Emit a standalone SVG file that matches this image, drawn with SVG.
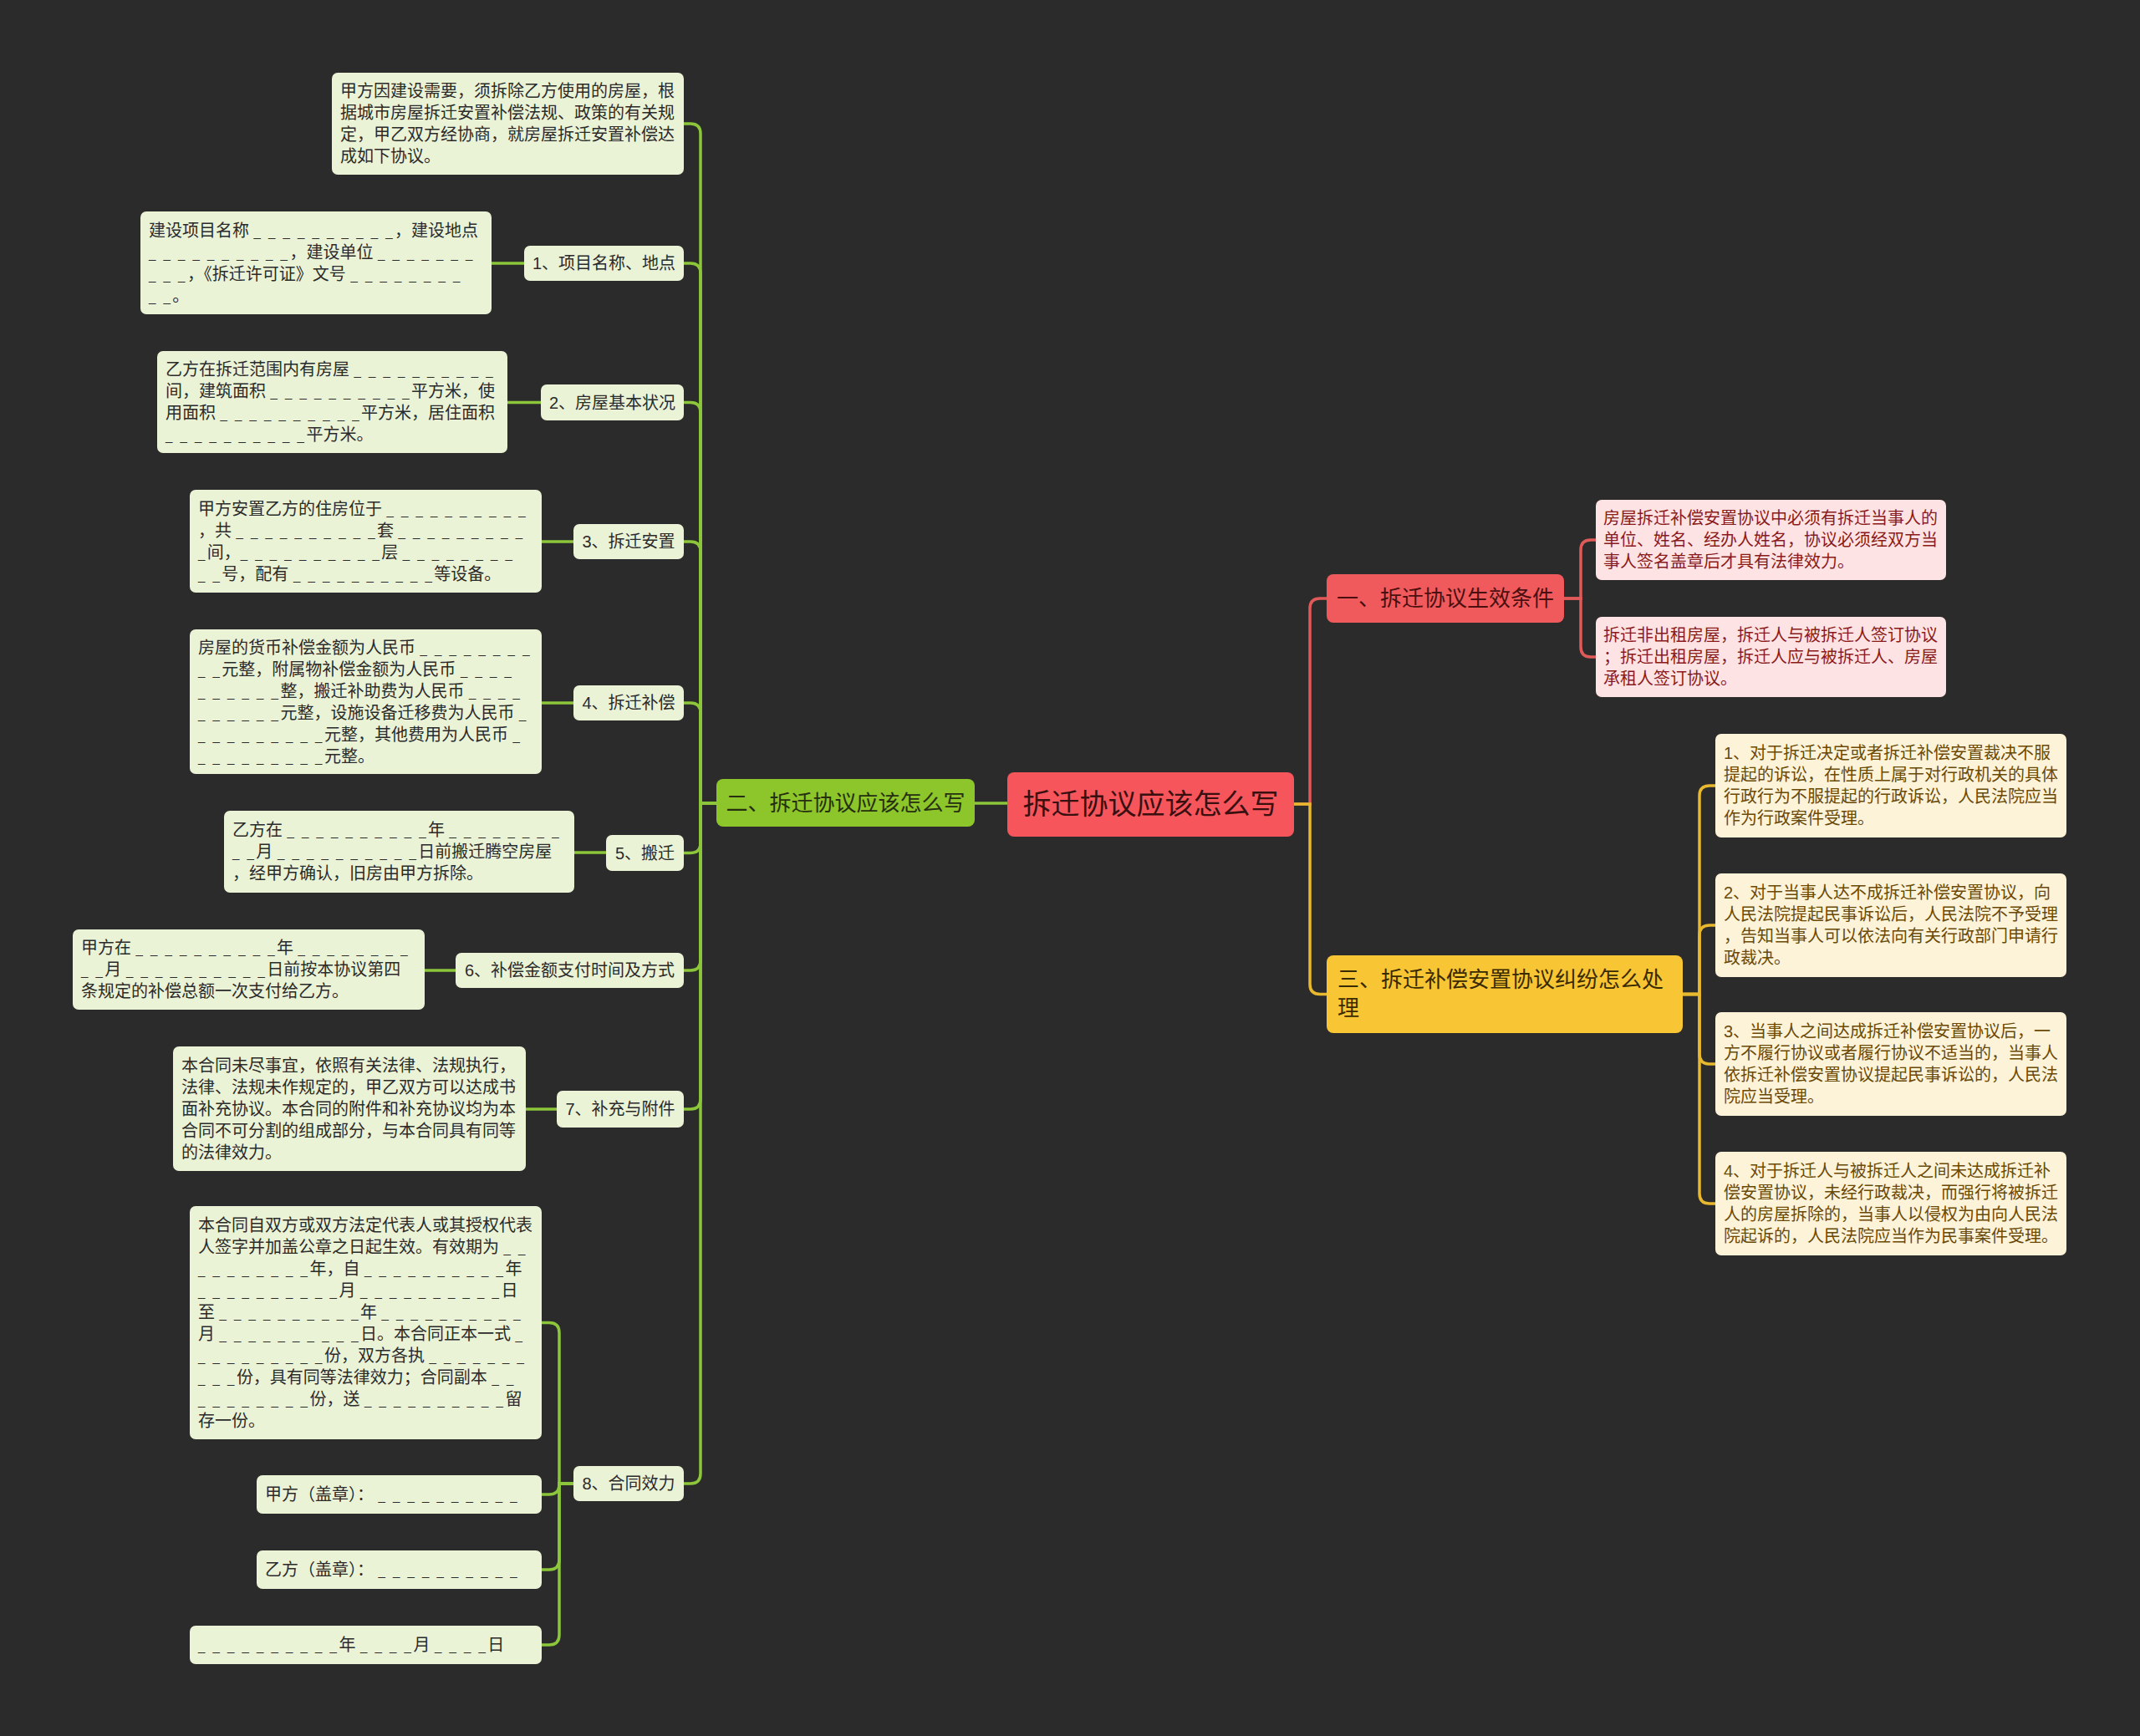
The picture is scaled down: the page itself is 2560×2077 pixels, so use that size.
<svg xmlns="http://www.w3.org/2000/svg" width="2560" height="2077" viewBox="0 0 2560 2077">
<style>
text{font-family:"Liberation Sans","Noto Sans CJK SC",sans-serif;}
.u{font-size:15px;letter-spacing:2.5px;}
.lf{fill:#ebf3d7;}
.lt{font-size:20px;fill:#2b2b2b;}
.st{font-size:20px;fill:#2b2b2b;text-anchor:middle;}
.pf{fill:#fde3e3;}
.pt{font-size:20px;fill:#8a1b1b;}
.yf{fill:#fdf3d9;}
.yt{font-size:20px;fill:#6b4a06;}
.cg{fill:none;stroke:#8cc63a;stroke-width:3.5;}
.cr{fill:none;stroke:#e05a5a;stroke-width:3.5;}
.cy{fill:none;stroke:#e8b92e;stroke-width:3.5;}
</style>
<rect width="2560" height="2077" fill="#2b2b2b"/>
<g id="connectors">
<path class="cg" d="M1205 961 H1166"/>
<path class="cg" d="M857 961 H838 V160 Q838 148 826 148 H818"/>
<path class="cg" d="M857 961 H838 V327 Q838 315 826 315 H818"/>
<path class="cg" d="M857 961 H838 V493.5 Q838 481.5 826 481.5 H818"/>
<path class="cg" d="M857 961 H838 V660 Q838 648 826 648 H818"/>
<path class="cg" d="M857 961 H838 V853 Q838 841 826 841 H818"/>
<path class="cg" d="M857 961 H838 V1008.5 Q838 1020.5 826 1020.5 H818"/>
<path class="cg" d="M857 961 H838 V1149 Q838 1161 826 1161 H818"/>
<path class="cg" d="M857 961 H838 V1315 Q838 1327 826 1327 H818"/>
<path class="cg" d="M857 961 H838 V1763 Q838 1775 826 1775 H818"/>
<path class="cg" d="M627 315 H588"/>
<path class="cg" d="M647 481.5 H607"/>
<path class="cg" d="M686 648 H648"/>
<path class="cg" d="M686 841 H648"/>
<path class="cg" d="M725 1020 H687"/>
<path class="cg" d="M545 1161 H508"/>
<path class="cg" d="M666 1327 H629"/>
<path class="cg" d="M686 1775 H669 V1594.5 Q669 1582.5 657 1582.5 H648"/>
<path class="cg" d="M686 1775 H669 V1776 Q669 1788 657 1788 H648"/>
<path class="cg" d="M686 1775 H669 V1866 Q669 1878 657 1878 H648"/>
<path class="cg" d="M686 1775 H669 V1956 Q669 1968 657 1968 H648"/>
<path class="cr" d="M1548 962 H1567 V728 Q1567 716 1579 716 H1587"/>
<path class="cy" d="M1548 962 H1567 V1177.5 Q1567 1189.5 1579 1189.5 H1587"/>
<path class="cr" d="M1871 716 H1891 V658 Q1891 646 1903 646 H1909"/>
<path class="cr" d="M1871 716 H1891 V774 Q1891 786 1903 786 H1909"/>
<path class="cy" d="M2013 1189.5 H2033 V952 Q2033 940 2045 940 H2052"/>
<path class="cy" d="M2013 1189.5 H2033 V1119 Q2033 1107 2045 1107 H2052"/>
<path class="cy" d="M2013 1189.5 H2033 V1261 Q2033 1273 2045 1273 H2052"/>
<path class="cy" d="M2013 1189.5 H2033 V1428 Q2033 1440 2045 1440 H2052"/>
</g>
<g id="root">
<rect x="1205" y="924" width="343" height="77" rx="8" fill="#f5555b"/>
<text x="1376.5" y="974" font-size="34" fill="#3a0f10" text-anchor="middle">拆迁协议应该怎么写</text>
</g>
<g id="topic2">
<rect x="857" y="932" width="309" height="57" rx="8" fill="#8cc62a"/>
<text x="1011.5" y="970" font-size="26" fill="#263010" text-anchor="middle">二、拆迁协议应该怎么写</text>
</g>
<g id="topic1">
<rect x="1587" y="687" width="284" height="58" rx="8" fill="#f05a5c"/>
<text x="1729" y="725" font-size="26" fill="#4a1010" text-anchor="middle">一、拆迁协议生效条件</text>
</g>
<g id="topic3">
<rect x="1587" y="1143" width="426" height="93" rx="8" fill="#f8c534"/>
<text x="1600" y="1181" font-size="26" fill="#3a2a00">三、拆迁补偿安置协议纠纷怎么处</text>
<text x="1600" y="1215" font-size="26" fill="#3a2a00">理</text>
</g>
<g id="leaf-intro">
<rect class="lf" x="397" y="87" width="421" height="122" rx="7"/>
<text class="lt" x="407" y="116">甲方因建设需要，须拆除乙方使用的房屋，根</text>
<text class="lt" x="407" y="142">据城市房屋拆迁安置补偿法规、政策的有关规</text>
<text class="lt" x="407" y="168">定，甲乙双方经协商，就房屋拆迁安置补偿达</text>
<text class="lt" x="407" y="194">成如下协议。</text>
</g>
<g id="sub1">
<rect class="lf" x="627" y="294" width="191" height="42" rx="7"/>
<text class="st" x="722.5" y="322">1、项目名称、地点</text>
</g>
<g id="leaf1">
<rect class="lf" x="168" y="253" width="420" height="123" rx="7"/>
<text class="lt" x="178" y="282.5">建设项目名称 <tspan class="u">_ _ _ _ _ _ _ _ _ _</tspan>，建设地点</text>
<text class="lt" x="178" y="308.5"><tspan class="u">_ _ _ _ _ _ _ _ _ _</tspan>，建设单位 <tspan class="u">_ _ _ _ _ _ _</tspan></text>
<text class="lt" x="178" y="334.5"><tspan class="u">_ _ _</tspan>，《拆迁许可证》文号 <tspan class="u">_ _ _ _ _ _ _ _</tspan></text>
<text class="lt" x="178" y="360.5"><tspan class="u">_ _</tspan>。</text>
</g>
<g id="sub2">
<rect class="lf" x="647" y="460" width="171" height="43" rx="7"/>
<text class="st" x="732.5" y="489">2、房屋基本状况</text>
</g>
<g id="leaf2">
<rect class="lf" x="188" y="420" width="419" height="122" rx="7"/>
<text class="lt" x="198" y="449">乙方在拆迁范围内有房屋 <tspan class="u">_ _ _ _ _ _ _ _ _ _</tspan></text>
<text class="lt" x="198" y="475">间，建筑面积 <tspan class="u">_ _ _ _ _ _ _ _ _ _</tspan>平方米，使</text>
<text class="lt" x="198" y="501">用面积 <tspan class="u">_ _ _ _ _ _ _ _ _ _</tspan>平方米，居住面积</text>
<text class="lt" x="198" y="527"><tspan class="u">_ _ _ _ _ _ _ _ _ _</tspan>平方米。</text>
</g>
<g id="sub3">
<rect class="lf" x="686" y="627" width="132" height="42" rx="7"/>
<text class="st" x="752" y="655">3、拆迁安置</text>
</g>
<g id="leaf3">
<rect class="lf" x="227" y="586" width="421" height="123" rx="7"/>
<text class="lt" x="237" y="615.5">甲方安置乙方的住房位于 <tspan class="u">_ _ _ _ _ _ _ _ _ _</tspan></text>
<text class="lt" x="237" y="641.5">，共 <tspan class="u">_ _ _ _ _ _ _ _ _ _</tspan>套 <tspan class="u">_ _ _ _ _ _ _ _ _</tspan></text>
<text class="lt" x="237" y="667.5"><tspan class="u">_</tspan>间，<tspan class="u">_ _ _ _ _ _ _ _ _ _</tspan>层 <tspan class="u">_ _ _ _ _ _ _ _</tspan></text>
<text class="lt" x="237" y="693.5"><tspan class="u">_ _</tspan>号，配有 <tspan class="u">_ _ _ _ _ _ _ _ _ _</tspan>等设备。</text>
</g>
<g id="sub4">
<rect class="lf" x="686" y="820" width="132" height="42" rx="7"/>
<text class="st" x="752" y="848">4、拆迁补偿</text>
</g>
<g id="leaf4">
<rect class="lf" x="227" y="753" width="421" height="173" rx="7"/>
<text class="lt" x="237" y="781.5">房屋的货币补偿金额为人民币 <tspan class="u">_ _ _ _ _ _ _ _</tspan></text>
<text class="lt" x="237" y="807.5"><tspan class="u">_ _</tspan>元整，附属物补偿金额为人民币 <tspan class="u">_ _ _ _</tspan></text>
<text class="lt" x="237" y="833.5"><tspan class="u">_ _ _ _ _ _</tspan>整，搬迁补助费为人民币 <tspan class="u">_ _ _ _</tspan></text>
<text class="lt" x="237" y="859.5"><tspan class="u">_ _ _ _ _ _</tspan>元整，设施设备迁移费为人民币 <tspan class="u">_</tspan></text>
<text class="lt" x="237" y="885.5"><tspan class="u">_ _ _ _ _ _ _ _ _</tspan>元整，其他费用为人民币 <tspan class="u">_</tspan></text>
<text class="lt" x="237" y="911.5"><tspan class="u">_ _ _ _ _ _ _ _ _</tspan>元整。</text>
</g>
<g id="sub5">
<rect class="lf" x="725" y="999" width="93" height="43" rx="7"/>
<text class="st" x="771.5" y="1027.5">5、搬迁</text>
</g>
<g id="leaf5">
<rect class="lf" x="268" y="970" width="419" height="98" rx="7"/>
<text class="lt" x="278" y="1000">乙方在 <tspan class="u">_ _ _ _ _ _ _ _ _ _</tspan>年 <tspan class="u">_ _ _ _ _ _ _ _</tspan></text>
<text class="lt" x="278" y="1026"><tspan class="u">_ _</tspan>月 <tspan class="u">_ _ _ _ _ _ _ _ _ _</tspan>日前搬迁腾空房屋</text>
<text class="lt" x="278" y="1052">，经甲方确认，旧房由甲方拆除。</text>
</g>
<g id="sub6">
<rect class="lf" x="545" y="1140" width="273" height="42" rx="7"/>
<text class="st" x="681.5" y="1168">6、补偿金额支付时间及方式</text>
</g>
<g id="leaf6">
<rect class="lf" x="87" y="1112" width="421" height="96" rx="7"/>
<text class="lt" x="97" y="1141">甲方在 <tspan class="u">_ _ _ _ _ _ _ _ _ _</tspan>年 <tspan class="u">_ _ _ _ _ _ _ _</tspan></text>
<text class="lt" x="97" y="1167"><tspan class="u">_ _</tspan>月 <tspan class="u">_ _ _ _ _ _ _ _ _ _</tspan>日前按本协议第四</text>
<text class="lt" x="97" y="1193">条规定的补偿总额一次支付给乙方。</text>
</g>
<g id="sub7">
<rect class="lf" x="666" y="1305" width="152" height="44" rx="7"/>
<text class="st" x="742" y="1334">7、补充与附件</text>
</g>
<g id="leaf7">
<rect class="lf" x="207" y="1252" width="422" height="149" rx="7"/>
<text class="lt" x="217" y="1281.5">本合同未尽事宜，依照有关法律、法规执行，</text>
<text class="lt" x="217" y="1307.5">法律、法规未作规定的，甲乙双方可以达成书</text>
<text class="lt" x="217" y="1333.5">面补充协议。本合同的附件和补充协议均为本</text>
<text class="lt" x="217" y="1359.5">合同不可分割的组成部分，与本合同具有同等</text>
<text class="lt" x="217" y="1385.5">的法律效力。</text>
</g>
<g id="sub8">
<rect class="lf" x="686" y="1754" width="132" height="42" rx="7"/>
<text class="st" x="752" y="1782">8、合同效力</text>
</g>
<g id="leaf8a">
<rect class="lf" x="227" y="1443" width="421" height="279" rx="7"/>
<text class="lt" x="237" y="1472.5">本合同自双方或双方法定代表人或其授权代表</text>
<text class="lt" x="237" y="1498.5">人签字并加盖公章之日起生效。有效期为 <tspan class="u">_ _</tspan></text>
<text class="lt" x="237" y="1524.5"><tspan class="u">_ _ _ _ _ _ _ _</tspan>年，自 <tspan class="u">_ _ _ _ _ _ _ _ _ _</tspan>年</text>
<text class="lt" x="237" y="1550.5"><tspan class="u">_ _ _ _ _ _ _ _ _ _</tspan>月 <tspan class="u">_ _ _ _ _ _ _ _ _ _</tspan>日</text>
<text class="lt" x="237" y="1576.5">至 <tspan class="u">_ _ _ _ _ _ _ _ _ _</tspan>年 <tspan class="u">_ _ _ _ _ _ _ _ _ _</tspan></text>
<text class="lt" x="237" y="1602.5">月 <tspan class="u">_ _ _ _ _ _ _ _ _ _</tspan>日。本合同正本一式 <tspan class="u">_</tspan></text>
<text class="lt" x="237" y="1628.5"><tspan class="u">_ _ _ _ _ _ _ _ _</tspan>份，双方各执 <tspan class="u">_ _ _ _ _ _ _</tspan></text>
<text class="lt" x="237" y="1654.5"><tspan class="u">_ _ _</tspan>份，具有同等法律效力；合同副本 <tspan class="u">_ _</tspan></text>
<text class="lt" x="237" y="1680.5"><tspan class="u">_ _ _ _ _ _ _ _</tspan>份，送 <tspan class="u">_ _ _ _ _ _ _ _ _ _</tspan>留</text>
<text class="lt" x="237" y="1706.5">存一份。</text>
</g>
<g id="leaf8b">
<rect class="lf" x="307" y="1765" width="341" height="46" rx="7"/>
<text class="lt" x="317" y="1795">甲方（盖章）： <tspan class="u">_ _ _ _ _ _ _ _ _ _</tspan></text>
</g>
<g id="leaf8c">
<rect class="lf" x="307" y="1855" width="341" height="46" rx="7"/>
<text class="lt" x="317" y="1885">乙方（盖章）： <tspan class="u">_ _ _ _ _ _ _ _ _ _</tspan></text>
</g>
<g id="leaf8d">
<rect class="lf" x="227" y="1945" width="421" height="46" rx="7"/>
<text class="lt" x="237" y="1975"><tspan class="u">_ _ _ _ _ _ _ _ _ _</tspan>年 <tspan class="u">_ _ _ _</tspan>月 <tspan class="u">_ _ _ _</tspan>日</text>
</g>
<g id="leafA">
<rect class="pf" x="1909" y="598" width="419" height="96" rx="7"/>
<text class="pt" x="1918" y="627">房屋拆迁补偿安置协议中必须有拆迁当事人的</text>
<text class="pt" x="1918" y="653">单位、姓名、经办人姓名，协议必须经双方当</text>
<text class="pt" x="1918" y="679">事人签名盖章后才具有法律效力。</text>
</g>
<g id="leafB">
<rect class="pf" x="1909" y="738" width="419" height="96" rx="7"/>
<text class="pt" x="1918" y="767">拆迁非出租房屋，拆迁人与被拆迁人签订协议</text>
<text class="pt" x="1918" y="793">；拆迁出租房屋，拆迁人应与被拆迁人、房屋</text>
<text class="pt" x="1918" y="819">承租人签订协议。</text>
</g>
<g id="leafY1">
<rect class="yf" x="2052" y="878" width="420" height="124" rx="7"/>
<text class="yt" x="2062" y="908">1、对于拆迁决定或者拆迁补偿安置裁决不服</text>
<text class="yt" x="2062" y="934">提起的诉讼，在性质上属于对行政机关的具体</text>
<text class="yt" x="2062" y="960">行政行为不服提起的行政诉讼，人民法院应当</text>
<text class="yt" x="2062" y="986">作为行政案件受理。</text>
</g>
<g id="leafY2">
<rect class="yf" x="2052" y="1045" width="420" height="124" rx="7"/>
<text class="yt" x="2062" y="1075">2、对于当事人达不成拆迁补偿安置协议，向</text>
<text class="yt" x="2062" y="1101">人民法院提起民事诉讼后，人民法院不予受理</text>
<text class="yt" x="2062" y="1127">，告知当事人可以依法向有关行政部门申请行</text>
<text class="yt" x="2062" y="1153">政裁决。</text>
</g>
<g id="leafY3">
<rect class="yf" x="2052" y="1211" width="420" height="124" rx="7"/>
<text class="yt" x="2062" y="1241">3、当事人之间达成拆迁补偿安置协议后，一</text>
<text class="yt" x="2062" y="1267">方不履行协议或者履行协议不适当的，当事人</text>
<text class="yt" x="2062" y="1293">依拆迁补偿安置协议提起民事诉讼的，人民法</text>
<text class="yt" x="2062" y="1319">院应当受理。</text>
</g>
<g id="leafY4">
<rect class="yf" x="2052" y="1378" width="420" height="124" rx="7"/>
<text class="yt" x="2062" y="1408">4、对于拆迁人与被拆迁人之间未达成拆迁补</text>
<text class="yt" x="2062" y="1434">偿安置协议，未经行政裁决，而强行将被拆迁</text>
<text class="yt" x="2062" y="1460">人的房屋拆除的，当事人以侵权为由向人民法</text>
<text class="yt" x="2062" y="1486">院起诉的，人民法院应当作为民事案件受理。</text>
</g>
</svg>
